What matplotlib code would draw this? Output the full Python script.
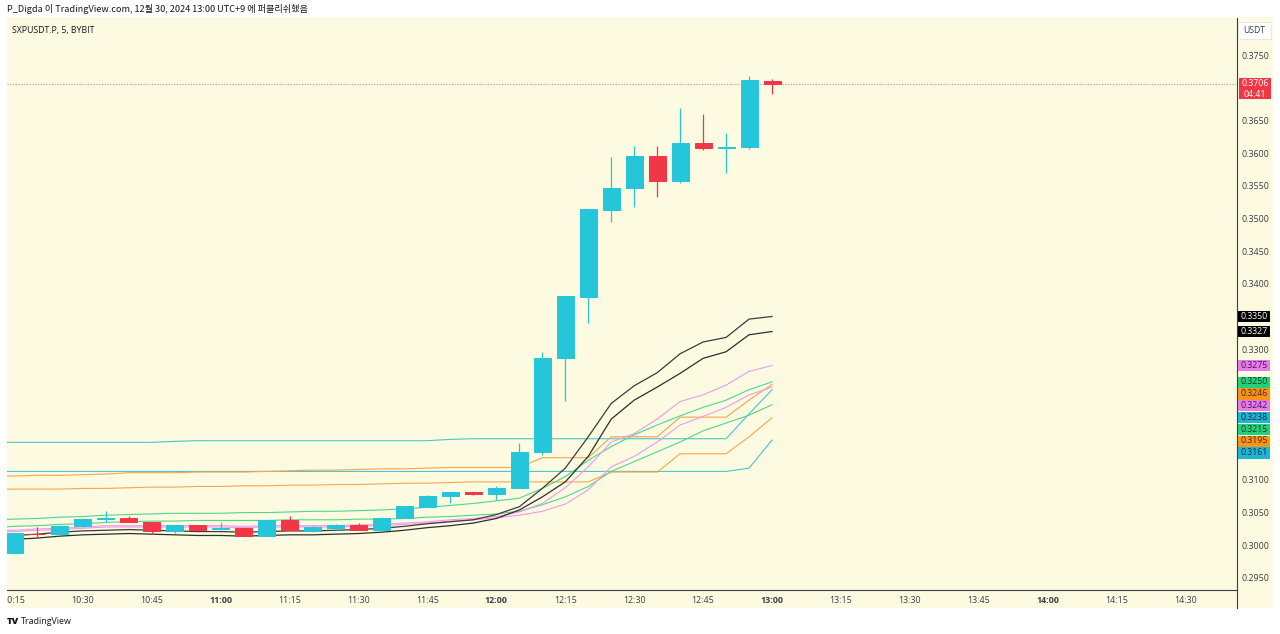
import numpy as np
import pandas as pd
import matplotlib
matplotlib.use("Agg")
import matplotlib.pyplot as plt
from matplotlib.patches import Rectangle
from matplotlib.lines import Line2D
from matplotlib.transforms import IdentityTransform

# ---------------- data ----------------
header_text = "P_Digda 이 TradingView.com, 12월 30, 2024 13:00 UTC+9 에 퍼블리쉬했음"
symbol_text = "SXPUSDT.P, 5, BYBIT"
currency = "USDT"
countdown = "04:41"
last_price = 0.3706

candle_start = "2024-12-30 10:15"
opens  = [0.2988, 0.3018, 0.3017, 0.3029, 0.3040, 0.3041, 0.3036, 0.3022, 0.3031, 0.3025,
          0.3026, 0.3014, 0.3039, 0.3022, 0.3026, 0.3031, 0.3024, 0.3042, 0.3058, 0.3075,
          0.3082, 0.3078, 0.3088, 0.3142, 0.3286, 0.3380, 0.3513, 0.3547, 0.3596, 0.3558,
          0.3615, 0.3607, 0.3610, 0.3710]
highs  = [0.3019, 0.3028, 0.3031, 0.3042, 0.3053, 0.3045, 0.3036, 0.3031, 0.3031, 0.3035,
          0.3026, 0.3039, 0.3045, 0.3029, 0.3032, 0.3034, 0.3043, 0.3060, 0.3077, 0.3081,
          0.3082, 0.3090, 0.3156, 0.3296, 0.3381, 0.3514, 0.3594, 0.3611, 0.3611, 0.3669,
          0.3660, 0.3631, 0.3718, 0.3713]
lows   = [0.2988, 0.3013, 0.3016, 0.3028, 0.3036, 0.3035, 0.3018, 0.3019, 0.3023, 0.3024,
          0.3014, 0.3014, 0.3023, 0.3021, 0.3024, 0.3024, 0.3024, 0.3042, 0.3058, 0.3064,
          0.3077, 0.3069, 0.3087, 0.3138, 0.3220, 0.3340, 0.3494, 0.3518, 0.3533, 0.3554,
          0.3605, 0.3569, 0.3606, 0.3691]
closes = [0.3019, 0.3017, 0.3029, 0.3040, 0.3041, 0.3036, 0.3022, 0.3031, 0.3024, 0.3026,
          0.3014, 0.3039, 0.3023, 0.3028, 0.3031, 0.3024, 0.3042, 0.3060, 0.3075, 0.3081,
          0.3078, 0.3088, 0.3143, 0.3287, 0.3381, 0.3514, 0.3547, 0.3596, 0.3558, 0.3616,
          0.3607, 0.3609, 0.3711, 0.3706]

line_start = "2024-12-30 10:10"
ma_black_1 = [0.3013, 0.3015, 0.3017, 0.3020, 0.3022, 0.3023, 0.3024, 0.3023, 0.3022, 0.3021,
              0.3021, 0.3020, 0.3021, 0.3022, 0.3022, 0.3023, 0.3024, 0.3026, 0.3029, 0.3033,
              0.3036, 0.3039, 0.3047, 0.3059, 0.3087, 0.3118, 0.3166, 0.3217, 0.3244, 0.3264,
              0.3293, 0.3311, 0.3318, 0.3346, 0.3350]
ma_black_2 = [0.3007, 0.3009, 0.3011, 0.3014, 0.3016, 0.3017, 0.3018, 0.3017, 0.3016, 0.3015,
              0.3015, 0.3014, 0.3015, 0.3016, 0.3016, 0.3017, 0.3018, 0.3020, 0.3023, 0.3027,
              0.3030, 0.3034, 0.3041, 0.3054, 0.3074, 0.3097, 0.3136, 0.3193, 0.3222, 0.3242,
              0.3263, 0.3286, 0.3296, 0.3322, 0.3327]
ma_pink_1  = [0.3022, 0.3023, 0.3025, 0.3026, 0.3028, 0.3030, 0.3030, 0.3030, 0.3030, 0.3030,
              0.3030, 0.3029, 0.3030, 0.3030, 0.3030, 0.3030, 0.3031, 0.3032, 0.3034, 0.3036,
              0.3039, 0.3041, 0.3044, 0.3051, 0.3064, 0.3088, 0.3120, 0.3158, 0.3171, 0.3193,
              0.3220, 0.3230, 0.3245, 0.3266, 0.3275]
ma_pink_2  = [0.3020, 0.3021, 0.3023, 0.3024, 0.3026, 0.3028, 0.3028, 0.3028, 0.3028, 0.3028,
              0.3028, 0.3027, 0.3028, 0.3028, 0.3028, 0.3028, 0.3029, 0.3030, 0.3032, 0.3034,
              0.3037, 0.3039, 0.3042, 0.3046, 0.3052, 0.3063, 0.3085, 0.3120, 0.3136, 0.3158,
              0.3184, 0.3197, 0.3211, 0.3230, 0.3242]
ma_green_1 = [0.3039, 0.3040, 0.3041, 0.3043, 0.3044, 0.3046, 0.3047, 0.3048, 0.3049, 0.3049,
              0.3049, 0.3050, 0.3050, 0.3051, 0.3052, 0.3052, 0.3053, 0.3054, 0.3056, 0.3058,
              0.3061, 0.3064, 0.3068, 0.3072, 0.3087, 0.3105, 0.3130, 0.3151, 0.3169, 0.3184,
              0.3198, 0.3211, 0.3222, 0.3238, 0.3250]
ma_green_2 = [0.3027, 0.3029, 0.3030, 0.3032, 0.3033, 0.3035, 0.3036, 0.3037, 0.3037, 0.3038,
              0.3038, 0.3038, 0.3038, 0.3039, 0.3039, 0.3039, 0.3040, 0.3040, 0.3041, 0.3043,
              0.3044, 0.3046, 0.3048, 0.3052, 0.3062, 0.3074, 0.3090, 0.3113, 0.3128, 0.3143,
              0.3158, 0.3175, 0.3187, 0.3199, 0.3215]
ma_orange_1 = [0.3105, 0.3106, 0.3107, 0.3107, 0.3108, 0.3109, 0.3111, 0.3111, 0.3111, 0.3112,
               0.3112, 0.3112, 0.3113, 0.3114, 0.3115, 0.3115, 0.3116, 0.3117, 0.3117, 0.3118,
               0.3119, 0.3119, 0.3119, 0.3119, 0.3134, 0.3134, 0.3134, 0.3166, 0.3166, 0.3166,
               0.3196, 0.3196, 0.3196, 0.3222, 0.3246]
ma_orange_2 = [0.3085, 0.3086, 0.3086, 0.3086, 0.3087, 0.3087, 0.3088, 0.3089, 0.3089, 0.3090,
               0.3090, 0.3091, 0.3091, 0.3092, 0.3092, 0.3093, 0.3093, 0.3094, 0.3095, 0.3095,
               0.3096, 0.3097, 0.3097, 0.3097, 0.3097, 0.3097, 0.3097, 0.3112, 0.3112, 0.3112,
               0.3140, 0.3140, 0.3140, 0.3166, 0.3195]
ma_cyan_1 = [0.31575, 0.31575, 0.31575, 0.31575, 0.31575, 0.31575, 0.31575, 0.31575, 0.3159, 0.3160,
             0.3160, 0.3160, 0.3160, 0.3160, 0.3160, 0.3160, 0.3160, 0.3160, 0.3160, 0.3160,
             0.3162, 0.3163, 0.3163, 0.3163, 0.3163, 0.3163, 0.3163, 0.3163, 0.3163, 0.3163,
             0.3163, 0.3163, 0.3163, 0.3201, 0.3238]
ma_cyan_2 = [0.3113, 0.3113, 0.3113, 0.3113, 0.3113, 0.3113, 0.3113, 0.3113, 0.3113, 0.3113,
             0.3113, 0.3113, 0.3113, 0.3113, 0.3113, 0.3113, 0.3113, 0.3113, 0.3113, 0.3113,
             0.3113, 0.3113, 0.3113, 0.3113, 0.3113, 0.3113, 0.3113, 0.3113, 0.3113, 0.3113,
             0.3113, 0.3113, 0.3113, 0.3118, 0.3161]

tick_start, tick_end = "2024-12-30 10:15", "2024-12-30 14:30"

# ---------------- styles ----------------
BG = "#FDFAE2"
UP = "#26C6DA"
DOWN = "#F23645"
TXT = "#3b3d44"
FONT = ["Open Sans", "DejaVu Sans"]
plt.rcParams["font.family"] = FONT

W, H = 1280, 634
fig = plt.figure(figsize=(W / 100, H / 100), dpi=100)
fig.patch.set_facecolor("white")

def fx(px):
    return px / W

def fy(py):
    return 1 - py / H

# panel background
fig.add_artist(Rectangle((fx(7), fy(608)), fx(1273 - 7), (608 - 17) / H,
                         transform=fig.transFigure, facecolor=BG, edgecolor="none", zorder=-10))

ax = fig.add_axes([fx(7), fy(590), fx(1236 - 7), (590 - 18) / H])
ax.set_facecolor(BG)

t0 = pd.Timestamp(candle_start)
step = pd.Timedelta(minutes=5)
cx = np.array([(pd.Timestamp(candle_start) + i * step - t0) / step for i in range(len(opens))])
lx = np.array([(pd.Timestamp(line_start) + i * step - t0) / step for i in range(len(ma_black_1))])

# moving-average lines
line_specs = [
    (ma_cyan_2, "#4EC3CF", 0.8, "#1FB5D6", "#08323c"),
    (ma_cyan_1, "#4EC3CF", 0.8, "#1FB5D6", "#08323c"),
    (ma_orange_2, "#F6A64B", 0.8, "#F7931A", "#4a2a00"),
    (ma_orange_1, "#F6A64B", 0.8, "#F7931A", "#4a2a00"),
    (ma_green_2, "#4FD68C", 0.8, "#22D17A", "#053d1e"),
    (ma_green_1, "#4FD68C", 0.8, "#22D17A", "#053d1e"),
    (ma_pink_2, "#EE9BEA", 0.8, "#E67CEB", "#4a0f50"),
    (ma_pink_1, "#EE9BEA", 0.8, "#E67CEB", "#4a0f50"),
    (ma_black_2, "#2e2e2e", 0.9, "#000000", "white"),
    (ma_black_1, "#3c3c3c", 0.9, "#000000", "white"),
]
for vals, col, lw, _, _ in line_specs:
    ax.plot(lx, vals, color=col, lw=lw, zorder=2, solid_joinstyle="round")

# candles
o = np.array(opens); c = np.array(closes); hi = np.array(highs); lo = np.array(lows)
cols = np.where(c >= o, UP, DOWN)
ax.vlines(cx, lo, hi, colors=cols, lw=0.9, zorder=3)
ax.bar(cx, np.abs(c - o), bottom=np.minimum(o, c), width=0.74, color=cols,
       edgecolor=cols, linewidth=0.7, zorder=4)

# current price dotted line
ax.axhline(last_price, color=DOWN, lw=0.8, ls=(0, (1, 1.5)), alpha=0.6, zorder=1)

ax.set_xlim(-0.305, 53.2)
ax.set_ylim(0.29316, 0.38066)
for s in ax.spines.values():
    s.set_visible(False)

# x ticks
tticks = pd.date_range(tick_start, tick_end, freq="15min")
xt = [(t - t0) / step for t in tticks]
ax.set_xticks(xt)
ax.set_xticklabels([t.strftime("%H:%M") for t in tticks])
for lab, t in zip(ax.get_xticklabels(), tticks):
    lab.set_fontsize(6.4)
    lab.set_color(TXT)
    if t.minute == 0:
        lab.set_fontweight("bold")
ax.tick_params(axis="x", length=0, pad=4.2)

# right-side value labels with stacking
ident = IdentityTransform()
labels = sorted([(v[-1], bg, fg) for v, _, _, bg, fg in line_specs], key=lambda t: -t[0])
box_h = 11.8
placed = []
prev = None
for val, bg, fg in labels:
    py = ax.transData.transform((0, val))[1]
    if prev is not None and py > prev - box_h:
        py = prev - box_h
    prev = py
    placed.append(py)
    fig.add_artist(Rectangle((1238, py - box_h / 2), 32, box_h - 0.6,
                             transform=ident, facecolor=bg, edgecolor="none", zorder=6))
    fig.text(1254, py, f"{val:.4f}", transform=ident, ha="center", va="center",
             fontsize=6.3, color=fg, zorder=7)

# current price box
pr = ax.transData.transform((0, last_price))[1]
fig.add_artist(Rectangle((1239, pr - 15.5), 32, 21.5, transform=ident,
                         facecolor=DOWN, edgecolor="none", zorder=6))
fig.text(1255, pr, f"{last_price:.4f}", transform=ident, ha="center", va="center",
         fontsize=6.3, color="white", zorder=7)
fig.text(1255, pr - 10.5, countdown, transform=ident, ha="center", va="center",
         fontsize=6.3, color="white", zorder=7)

# y ticks (hide those under labels)
cand = np.round(np.arange(0.2950, 0.37501, 0.0050), 4)
keep = []
for t in cand:
    ty = ax.transData.transform((0, t))[1]
    if all(abs(ty - p) >= 11 for p in placed) and abs(ty - pr) >= 12:
        keep.append(t)
ax.yaxis.tick_right()
ax.set_yticks(keep)
ax.set_yticklabels([f"{t:.4f}" for t in keep])
ax.tick_params(axis="y", length=0, pad=3.8, labelsize=6.4, labelcolor=TXT)

# separators
sep = "#3a3d45"
fig.add_artist(Line2D([fx(7), fx(1237)], [fy(590), fy(590)], transform=fig.transFigure,
                      color=sep, lw=0.8, zorder=5))
fig.add_artist(Line2D([fx(1237), fx(1237)], [fy(18), fy(608)], transform=fig.transFigure,
                      color=sep, lw=0.8, zorder=5))

# currency box
fig.add_artist(Rectangle((fx(1238), fy(39)), fx(33), 17 / H, transform=fig.transFigure,
                         facecolor="white", edgecolor="#e0e3eb", lw=0.6, zorder=6))
fig.text(fx(1254.5), fy(30.5), currency, ha="center", va="center", fontsize=6.2,
         color=TXT, zorder=7)

# header / title / footer
fig.text(fx(7), fy(9), header_text, ha="left", va="center", fontsize=6.6,
         color="#131722", family=["Noto Sans CJK KR", "DejaVu Sans"])
fig.text(fx(12), fy(30), symbol_text, ha="left", va="center", fontsize=6.3, color="#131722")
fig.text(fx(7), fy(621), "TV", ha="left", va="center", fontsize=6.8, fontweight="heavy",
         color="#131722")
fig.text(fx(21), fy(621), "TradingView", ha="left", va="center", fontsize=6.4, color="#131722")

# white mask left of the panel (clips the first time label)
fig.add_artist(Rectangle((0, fy(608)), fx(7), (608 - 17) / H, transform=fig.transFigure,
                         facecolor="white", edgecolor="none", zorder=20))

fig.savefig("out.png", dpi=100, facecolor="white")
